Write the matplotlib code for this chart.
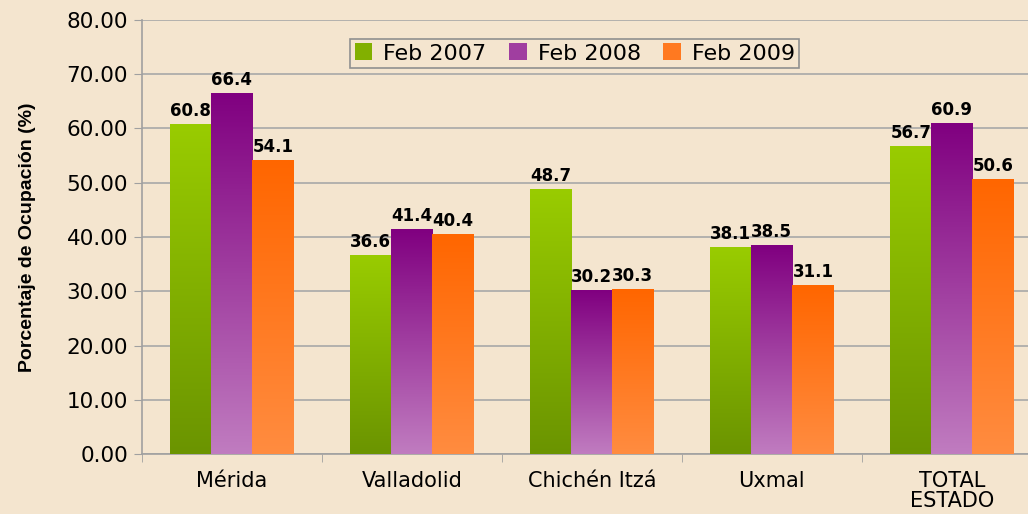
import numpy as np
import matplotlib
matplotlib.use("Agg")
import matplotlib.pyplot as plt
import matplotlib.colors as mcolors

# data
categories = ["Mérida", "Valladolid", "Chichén Itzá", "Uxmal", "TOTAL\nESTADO"]
series_names = ["Feb 2007", "Feb 2008", "Feb 2009"]
feb2007 = [60.8, 36.6, 48.7, 38.1, 56.7]
feb2008 = [66.4, 41.4, 30.2, 38.5, 60.9]
feb2009 = [54.1, 40.4, 30.3, 31.1, 50.6]
yticks = [0, 10, 20, 30, 40, 50, 60, 70, 80]

# gradients: (top colour, bottom colour)
grads = [("#99cc00", "#6b9400"), ("#800080", "#c07cc0"), ("#ff6600", "#ff8c40")]

plt.rcParams['font.family'] = ['DejaVu Sans']
bg = "#f4e5cf"

fig = plt.figure(figsize=(10.28, 5.14), dpi=100, facecolor=bg)
ax = fig.add_axes([0.138, 0.1167, 0.8755, 0.8444])
ax.set_facecolor(bg)

x = np.arange(len(categories))
w = 0.228
all_series = [feb2007, feb2008, feb2009]
grad = np.linspace(1, 0, 256).reshape(-1, 1)

for i, (vals, name) in enumerate(zip(all_series, series_names)):
    top, bot = grads[i]
    cmap = mcolors.LinearSegmentedColormap.from_list(name, [bot, top])
    offs = x + (i - 1) * w
    bars = ax.bar(offs, vals, w, color="none", edgecolor="none", zorder=3)
    for b, v in zip(bars, vals):
        x0 = b.get_x()
        # vertical gradient fill inside each bar
        ax.imshow(grad, cmap=cmap, aspect='auto', extent=[x0, x0 + w, 0, v],
                  zorder=3, interpolation='bilinear')
        ax.text(b.get_x() + w / 2, v + 0.8, f"{v:.1f}", ha='center', va='bottom',
                fontsize=12, fontweight='bold', zorder=4)
    # legend handle
    ax.bar([0], [0], 0, color=mcolors.to_hex(cmap(0.5)), label=name)

ax.set_xlim(-0.5, len(categories) - 0.5)
ax.set_ylim(0, 80)
ax.set_yticks(yticks)
ax.set_yticklabels([f"{t:.2f}" for t in yticks], fontsize=15.5)
ax.set_xticks(x)
ax.set_xticklabels(categories, fontsize=15, linespacing=1.0)
ax.set_xticks(np.arange(len(categories) + 1) - 0.5, minor=True)
ax.tick_params(axis='x', which='major', length=0, pad=12)
ax.tick_params(axis='x', which='minor', length=6, color="#a0a0a0")
ax.tick_params(axis='y', length=6, color="#a0a0a0", pad=4)
ax.grid(axis='y', color="#a8a8a8", linewidth=1.2, zorder=0)
ax.set_axisbelow(True)
for s in ['top', 'right']:
    ax.spines[s].set_visible(False)
for s in ['left', 'bottom']:
    ax.spines[s].set_color("#a0a0a0")
    ax.spines[s].set_linewidth(1.2)

ax.set_ylabel("Porcentaje de Ocupación (%)", fontsize=14, fontweight='bold',
              family=['Liberation Sans Narrow', 'Liberation Sans'])
ax.yaxis.set_label_coords(-0.118, 0.5)

leg = ax.legend(loc='upper center', bbox_to_anchor=(0.481, 0.982), ncol=3, fontsize=16,
                frameon=True, fancybox=False, edgecolor="#909090", facecolor=bg,
                handlelength=0.8, handleheight=0.8, handletextpad=0.5, columnspacing=1.0,
                borderpad=0.2)
leg.get_frame().set_linewidth(1.2)
leg.get_frame().set_alpha(1)

fig.savefig("out.png", dpi=100, facecolor=bg)
